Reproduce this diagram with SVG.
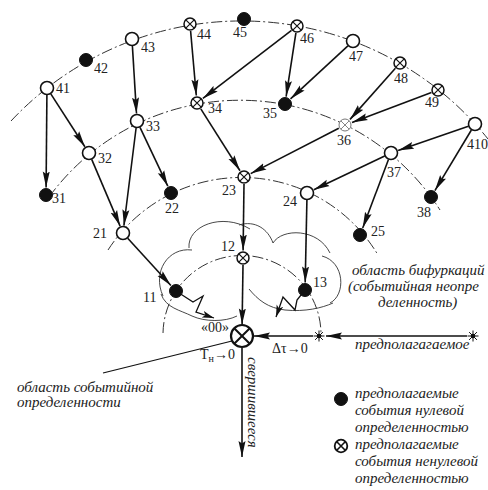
<svg xmlns="http://www.w3.org/2000/svg" xmlns:xlink="http://www.w3.org/1999/xlink" width="488" height="490" viewBox="0 0 488 490">
<style>
.n{font-family:"Liberation Serif","Times New Roman","DejaVu Serif",serif;font-size:14px;fill:#222}
.it{font-family:"Liberation Serif","Times New Roman","DejaVu Serif",serif;font-style:italic;font-size:15px;fill:#222}
.dd{fill:none;stroke:#333;stroke-width:1;stroke-dasharray:11 3 2 3}
.cl{fill:none;stroke:#333;stroke-width:0.9}
.e{stroke:#111;stroke-width:1.6;fill:none;marker-end:url(#ah)}
.b{stroke:#111;stroke-width:1.3;fill:none;marker-end:url(#ah2)}
.o{fill:#fff;stroke:#111;stroke-width:1.6}
.f{fill:#111;stroke:#111;stroke-width:1}
</style>
<defs>
<marker id="ah" viewBox="0 0 16 8" refX="16" refY="4" markerWidth="16" markerHeight="8" markerUnits="userSpaceOnUse" orient="auto"><path d="M0,0.5 L16,4 L0,7.5 L2.5,4 z" fill="#111"/></marker>
<marker id="ah2" viewBox="0 0 12 8" refX="12" refY="4" markerWidth="12" markerHeight="8" markerUnits="userSpaceOnUse" orient="auto"><path d="M0,0.5 L12,4 L0,7.5 L3,4 z" fill="#111"/></marker>
<g id="xs"><circle r="6" fill="#fff" stroke="#111" stroke-width="1.5"/><path d="M-4.2,-4.2L4.2,4.2M-4.2,4.2L4.2,-4.2" stroke="#111" stroke-width="1.2" fill="none"/></g>
<g id="star"><circle r="2.3" fill="#111"/><path d="M-5.5,0H5.5M0,-5.5V5.5M-3.9,-3.9L3.9,3.9M-3.9,3.9L3.9,-3.9" stroke="#111" stroke-width="1"/></g>
</defs>
<rect width="488" height="490" fill="#fff"/>

<g id="arcs">
<path class="dd" d="M11,121 A316,316 0 0 1 488,139"/>
<path class="dd" d="M49,197 A237,237 0 0 1 440,210"/>
<path class="dd" d="M108,250 A159,159 0 0 1 378,255"/>
<path class="dd" d="M163,333 A79,79 0 0 1 321,336"/>
</g>

<g id="clouds">
<path class="cl" d="M189,248 C187,226 222,212 250,229"/>
<path class="cl" d="M239,225 C255,220 268,229 273,243"/>
<path class="cl" d="M163,296 C152,272 168,247 192,250"/>
<path class="cl" d="M161,294 C166,308 180,310 192,316 C205,322 225,322 237,316"/>
<path class="cl" d="M273,243 C282,228 318,228 330,253"/>
<path class="cl" d="M322,256 C345,262 346,295 330,303"/>
<path class="cl" d="M249,289 C258,300 268,308 285,310 C305,312 322,308 333,303"/>
</g>

<g id="connectors">
<line class="e" x1="46.9" y1="95" x2="46.1" y2="187.5"/>
<line class="e" x1="50.8" y1="93.9" x2="84.9" y2="146.7"/>
<line class="e" x1="132.4" y1="46" x2="136.5" y2="113.5"/>
<line class="e" x1="190.6" y1="31" x2="196.3" y2="95.5"/>
<line class="e" x1="291.5" y1="30.3" x2="202.9" y2="98.4"/>
<line class="e" x1="295.9" y1="32.9" x2="286.1" y2="96.6"/>
<line class="e" x1="347.9" y1="45.8" x2="290.5" y2="98.9"/>
<line class="e" x1="395.4" y1="68.2" x2="350" y2="119.4"/>
<line class="e" x1="431.4" y1="92.5" x2="352" y2="122.4"/>
<line class="e" x1="468.4" y1="126.3" x2="398.1" y2="150.6"/>
<line class="e" x1="471.4" y1="130" x2="434.9" y2="190.6"/>
<line class="e" x1="91.7" y1="159.4" x2="120.1" y2="226.1"/>
<line class="e" x1="136.1" y1="128" x2="123.9" y2="225.6"/>
<line class="e" x1="140" y1="127.3" x2="167.8" y2="186.2"/>
<line class="e" x1="200.8" y1="108.9" x2="240" y2="170.7"/>
<line class="e" x1="338.8" y1="128.2" x2="250.7" y2="173.6"/>
<line class="e" x1="384.7" y1="156" x2="313.8" y2="189.8"/>
<line class="e" x1="388.5" y1="159.5" x2="362.7" y2="228"/>
<line class="e" x1="244" y1="184" x2="243.1" y2="250.5"/>
<line class="e" x1="306.9" y1="200" x2="305.2" y2="282.5"/>
<line class="e" x1="127.7" y1="238.2" x2="170.9" y2="285.5"/>
<line class="e" x1="243" y1="265" x2="242.1" y2="324.5"/>
<line class="e" x1="313" y1="336" x2="254" y2="336"/>
<line class="e" x1="467" y1="336" x2="326" y2="336"/>
<line class="e" x1="242" y1="348" x2="242" y2="457"/>
<polyline class="b" points="176,291 193,302 203,296 196,312 214,318"/>
<polyline class="b" points="305,290 297,300 295,310 283,297 276,317"/>
<line x1="103" y1="373" x2="232" y2="341" stroke="#111" stroke-width="1.2"/>
</g>

<g id="n41"><circle class="o" cx="47" cy="88" r="6.5"/><text class="n" x="56" y="93">41</text></g>
<g id="n42"><circle class="f" cx="86" cy="60" r="6.5"/><text class="n" x="94" y="73">42</text></g>
<g id="n43"><circle class="o" cx="132" cy="39" r="6.5"/><text class="n" x="141" y="52">43</text></g>
<g id="n44"><use xlink:href="#xs" x="190" y="24"/><text class="n" x="197" y="39">44</text></g>
<g id="n45"><circle class="f" cx="244" cy="19" r="6.5"/><text class="n" x="233" y="37">45</text></g>
<g id="n46"><use xlink:href="#xs" x="297" y="26"/><text class="n" x="300" y="43">46</text></g>
<g id="n47"><circle class="o" cx="353" cy="41" r="6.5"/><text class="n" x="349" y="61">47</text></g>
<g id="n48"><use xlink:href="#xs" x="400" y="63"/><text class="n" x="394" y="83">48</text></g>
<g id="n49"><use xlink:href="#xs" x="438" y="90"/><text class="n" x="425" y="107">49</text></g>
<g id="n410"><circle class="o" cx="475" cy="124" r="6.5"/><text class="n" x="467" y="149">410</text></g>
<g id="n31"><circle class="f" cx="46" cy="195" r="6.5"/><text class="n" x="52" y="203">31</text></g>
<g id="n32"><circle class="o" cx="89" cy="153" r="6.5"/><text class="n" x="98" y="163">32</text></g>
<g id="n33"><circle class="o" cx="137" cy="121" r="6.5"/><text class="n" x="146" y="131">33</text></g>
<g id="n34"><use xlink:href="#xs" x="197" y="103"/><text class="n" x="208" y="113">34</text></g>
<g id="n35"><circle class="f" cx="285" cy="104" r="6.5"/><text class="n" x="263" y="118">35</text></g>
<g id="n36"><circle cx="345" cy="125" r="6" fill="#fff" stroke="#777" stroke-width="1"/><path d="M340.8,120.8L349.2,129.2M340.8,129.2L349.2,120.8" stroke="#777" stroke-width="0.9"/><text class="n" x="337" y="145">36</text></g>
<g id="n37"><circle class="o" cx="391" cy="153" r="6.5"/><text class="n" x="387" y="177">37</text></g>
<g id="n38"><circle class="f" cx="431" cy="197" r="6.5"/><text class="n" x="417" y="217">38</text></g>
<g id="n21"><circle class="o" cx="123" cy="233" r="6.5"/><text class="n" x="93" y="238">21</text></g>
<g id="n22"><circle class="f" cx="171" cy="193" r="6.5"/><text class="n" x="165" y="213">22</text></g>
<g id="n23"><use xlink:href="#xs" x="244" y="177"/><text class="n" x="222" y="195">23</text></g>
<g id="n24"><circle class="o" cx="307" cy="193" r="6.5"/><text class="n" x="283" y="206">24</text></g>
<g id="n25"><circle class="f" cx="360" cy="235" r="6.5"/><text class="n" x="371" y="236">25</text></g>
<g id="n11"><circle class="f" cx="176" cy="291" r="6.5"/><text class="n" x="143" y="302">11</text></g>
<g id="n12"><use xlink:href="#xs" x="243" y="258"/><text class="n" x="221" y="251">12</text></g>
<g id="n13"><circle class="f" cx="305" cy="290" r="6.5"/><text class="n" x="313" y="287">13</text></g>
<g id="n00"><circle cx="242" cy="336" r="11" fill="#fff" stroke="#111" stroke-width="2.2"/><path d="M234.2,328.2L249.8,343.8M234.2,343.8L249.8,328.2" stroke="#111" stroke-width="2"/><text class="n" x="201" y="332">«00»</text><text class="n" x="200" y="359">T<tspan font-size="10" dy="3">н</tspan><tspan dy="-3">→0</tspan></text></g>
<g id="s1"><use xlink:href="#star" x="319" y="336"/><text class="n" x="272" y="353">Δτ→0</text></g>
<g id="s2"><use xlink:href="#star" x="473" y="336"/><text class="it" x="355" y="349">предполагагаемое</text></g>
<g id="outcome"><text class="it" transform="translate(248,357) rotate(90)">свершившееся</text></g>

<g id="bif-label"><text class="it" x="352" y="275">область бифуркаций</text><text class="it" x="348" y="291">(событийная неопре</text><text class="it" x="378" y="307">деленность)</text></g>
<g id="cert-label"><text class="it" x="17" y="392">область событийной</text><text class="it" x="17" y="407">определенности</text></g>

<g id="legend">
<circle class="f" cx="341" cy="399" r="6.5"/>
<text class="it" x="355" y="398">предполагаемые</text>
<text class="it" x="355" y="415">события нулевой</text>
<text class="it" x="355" y="432">определенностью</text>
<circle cx="341" cy="446" r="6.3" fill="#fff" stroke="#111" stroke-width="1.8"/><path d="M336.8,441.8L345.2,450.2M336.8,450.2L345.2,441.8" stroke="#111" stroke-width="1.6"/>
<text class="it" x="355" y="449">предполагаемые</text>
<text class="it" x="355" y="466">события ненулевой</text>
<text class="it" x="355" y="483">определенностью</text>
</g>
</svg>
